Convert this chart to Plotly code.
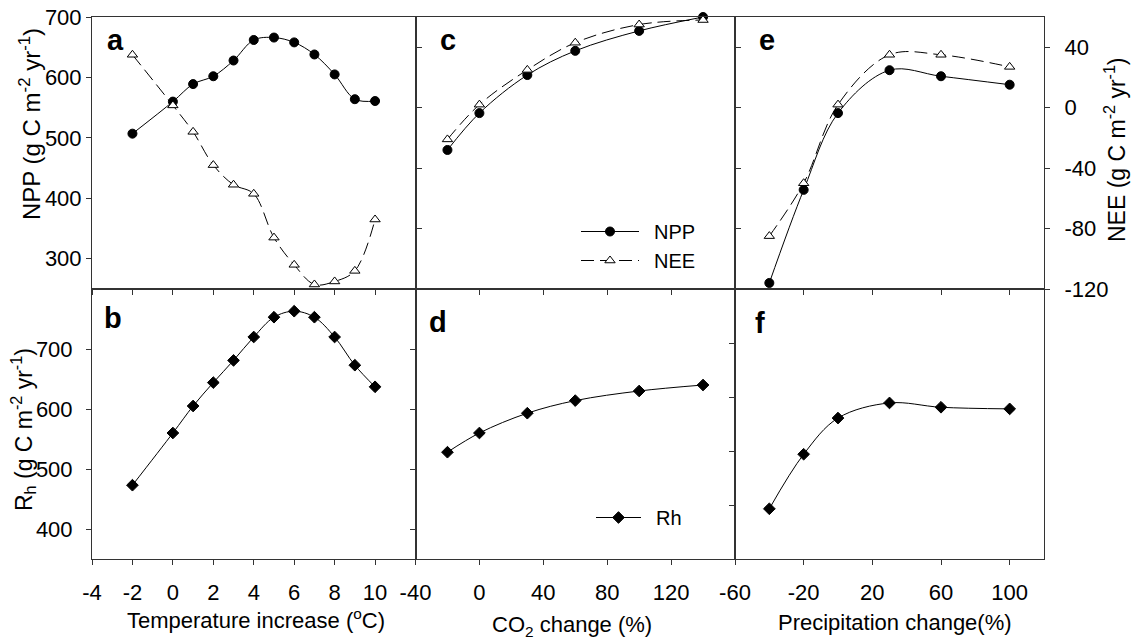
import plotly.graph_objects as go

# ---------------- data ----------------
temp = [-2, 0, 1, 2, 3, 4, 5, 6, 7, 8, 9, 10]
npp_temp = [507, 560, 589, 602, 628, 662, 666, 658, 638, 605, 564, 561]
nee_temp = [35, 1.5, -16, -38, -51, -57, -86, -104, -117, -115, -108, -74]
rh_temp = [473, 560, 605, 644, 681, 720, 753, 763, 753, 720, 673, 637]

co2 = [-20, 0, 30, 60, 100, 140]
npp_co2 = [480, 541, 604, 644, 677, 700]
nee_co2 = [-21, 2, 25, 43, 55, 58]
rh_co2 = [528, 560, 593, 614, 630, 640]

precip = [-40, -20, 0, 30, 60, 100]
npp_precip = [260, 414, 541, 612, 602, 588]
nee_precip = [-85, -50, 2, 35, 35, 27]
rh_precip = [393, 494, 561, 589, 581, 578]

temp_ticks = [-4, -2, 0, 2, 4, 6, 8, 10, 12]
temp_ticklabels = ["-4", "-2", "0", "2", "4", "6", "8", "10", ""]
co2_ticks = [-40, 0, 40, 80, 120, 160]
co2_ticklabels = ["-40", "0", "40", "80", "120", ""]
precip_ticks = [-60, -20, 20, 60, 100]
precip_ticklabels = ["-60", "-20", "20", "60", "100"]
npp_ticks = [300, 400, 500, 600, 700]
nee_ticks = [-120, -80, -40, 0, 40]
nee_ticklabels = ["-120", "-80", "-40", "0", "40"]
rh_ticks = [400, 500, 600, 700]

# ---------------- layout helpers ----------------
W, H = 1132, 640
FONT = "Liberation Sans, Arial, sans-serif"
LC = "#333333"


def px(x):
    return x / W


def py(y):
    return 1 - y / H


XA = [px(92), px(415.5)]
XC = [px(415.5), px(735)]
XE = [px(735), px(1044)]
YT = [py(289), py(17)]
YB = [py(559), py(289)]

fig = go.Figure()

npp_style = dict(mode="lines+markers", line=dict(color="black", width=1, shape="spline", smoothing=1),
                 marker=dict(symbol="circle", size=9, color="black", line=dict(color="black", width=1)),
                 cliponaxis=False, name="NPP")
nee_style = dict(mode="lines+markers", line=dict(color="black", width=1, shape="spline", smoothing=1, dash="13px,6px"),
                 marker=dict(symbol="triangle-up", size=9, color="white", line=dict(color="black", width=1)),
                 cliponaxis=False, name="NEE")
rh_style = dict(mode="lines+markers", line=dict(color="black", width=1, shape="spline", smoothing=1),
                marker=dict(symbol="diamond", size=9, color="black", line=dict(color="black", width=1)),
                cliponaxis=False, name="Rh")

# panel a
fig.add_trace(go.Scatter(x=temp, y=nee_temp, xaxis="x", yaxis="y2", showlegend=False, **nee_style))
fig.add_trace(go.Scatter(x=temp, y=npp_temp, xaxis="x", yaxis="y", showlegend=False, **npp_style))
# panel c
fig.add_trace(go.Scatter(x=co2, y=npp_co2, xaxis="x3", yaxis="y3", showlegend=True, legend="legend", **npp_style))
fig.add_trace(go.Scatter(x=co2, y=nee_co2, xaxis="x3", yaxis="y4", showlegend=True, legend="legend", **nee_style))
# panel e
fig.add_trace(go.Scatter(x=precip, y=nee_precip, xaxis="x5", yaxis="y6", showlegend=False, **nee_style))
fig.add_trace(go.Scatter(x=precip, y=npp_precip, xaxis="x5", yaxis="y5", showlegend=False, **npp_style))
# panel b
fig.add_trace(go.Scatter(x=temp, y=rh_temp, xaxis="x7", yaxis="y7", showlegend=False, **rh_style))
# panel d
fig.add_trace(go.Scatter(x=co2, y=rh_co2, xaxis="x8", yaxis="y8", showlegend=True, legend="legend2", **rh_style))
# panel f
fig.add_trace(go.Scatter(x=precip, y=rh_precip, xaxis="x9", yaxis="y9", showlegend=False, **rh_style))

base = dict(showgrid=False, zeroline=False, showline=True, linecolor=LC, linewidth=1,
            ticklen=5, tickcolor=LC, tickwidth=1, automargin=False,
            tickfont=dict(family=FONT, size=22, color="black"))


def ax(**kw):
    d = dict(base)
    d.update(kw)
    return d


layout = dict(
    width=W, height=H, margin=dict(l=0, r=0, t=0, b=0, autoexpand=False),
    paper_bgcolor="white", plot_bgcolor="white",
    font=dict(family=FONT, color="black"),
    # panel a
    xaxis=ax(domain=XA, anchor="y", range=[-4, 12], tickvals=temp_ticks, ticks="outside",
             showticklabels=False, mirror=True),
    yaxis=ax(domain=YT, anchor="x", range=[250, 700], tickvals=npp_ticks, ticks="outside",
             showticklabels=True, mirror=True),
    yaxis2=ax(overlaying="y", anchor="x", side="right", range=[-120, 60], tickvals=nee_ticks,
              ticks="outside", showticklabels=False),
    # panel c
    xaxis3=ax(domain=XC, anchor="y3", range=[-40, 160], tickvals=co2_ticks, ticks="outside",
              showticklabels=False, mirror=True),
    yaxis3=ax(domain=YT, anchor="x3", range=[250, 700], ticks="", showticklabels=False, mirror=True),
    yaxis4=ax(overlaying="y3", anchor="x3", side="right", range=[-120, 60], tickvals=nee_ticks,
              ticks="outside", showticklabels=False),
    # panel e
    xaxis5=ax(domain=XE, anchor="y5", range=[-60, 120], tickvals=precip_ticks, ticks="outside",
              showticklabels=False, mirror=True),
    yaxis5=ax(domain=YT, anchor="x5", range=[250, 700], ticks="", showticklabels=False, mirror=True),
    yaxis6=ax(overlaying="y5", anchor="x5", side="right", range=[-120, 60], tickvals=nee_ticks,
              ticktext=nee_ticklabels, ticks="outside", showticklabels=True, ticklabelstandoff=10),
    # panel b
    xaxis7=ax(domain=XA, anchor="y7", range=[-4, 12], tickvals=temp_ticks, ticktext=temp_ticklabels,
              ticks="outside", showticklabels=True, mirror=True, ticklabelstandoff=9),
    yaxis7=ax(domain=YB, anchor="x7", range=[350, 800], tickvals=rh_ticks, ticks="outside",
              showticklabels=True, mirror=True, ticklabelstandoff=9),
    # panel d
    xaxis8=ax(domain=XC, anchor="y8", range=[-40, 160], tickvals=co2_ticks, ticktext=co2_ticklabels,
              ticks="outside", showticklabels=True, mirror=True, ticklabelstandoff=9),
    yaxis8=ax(domain=YB, anchor="x8", range=[350, 800], tickvals=rh_ticks, ticks="outside",
              showticklabels=False, mirror=True),
    # panel f
    xaxis9=ax(domain=XE, anchor="y9", range=[-60, 120], tickvals=precip_ticks, ticktext=precip_ticklabels,
              ticks="outside", showticklabels=True, mirror=True, ticklabelstandoff=9),
    yaxis9=ax(domain=YB, anchor="x9", range=[300, 800], tickvals=rh_ticks, ticks="outside",
              showticklabels=False, mirror=True),
    legend=dict(x=px(576), y=py(212), xanchor="left", yanchor="top", bgcolor="rgba(0,0,0,0)",
                font=dict(family=FONT, size=20, color="black"), itemwidth=58, tracegroupgap=0),
    legend2=dict(x=px(591), y=py(498), xanchor="left", yanchor="top", bgcolor="rgba(0,0,0,0)",
                 font=dict(family=FONT, size=20, color="black"), itemwidth=45),
)
fig.update_layout(**layout)

ann = []
# panel letters
for t, x, y in [("a", 115, 40), ("c", 448, 40), ("e", 767, 40), ("b", 113, 318), ("d", 438, 322), ("f", 760, 323)]:
    ann.append(dict(text="<b>%s</b>" % t, x=px(x), y=py(y), xref="paper", yref="paper", showarrow=False,
                    xanchor="center", yanchor="middle", font=dict(family=FONT, size=29, color="black")))
# axis titles
ann.append(dict(text="NPP (g C m<sup>-2</sup> yr<sup>-1</sup>)", x=px(30), y=py(124), xref="paper", yref="paper",
                showarrow=False, textangle=-90, xanchor="center", yanchor="middle",
                font=dict(family=FONT, size=24, color="black")))
ann.append(dict(text="R<sub>h</sub> (g C m<sup>-2</sup> yr<sup>-1</sup>)", x=px(23), y=py(430), xref="paper",
                yref="paper", showarrow=False, textangle=-90, xanchor="center", yanchor="middle",
                font=dict(family=FONT, size=23, color="black")))
ann.append(dict(text="NEE (g C m<sup>-2</sup> yr<sup>-1</sup>)", x=px(1115), y=py(150), xref="paper", yref="paper",
                showarrow=False, textangle=-90, xanchor="center", yanchor="middle",
                font=dict(family=FONT, size=23, color="black")))
ann.append(dict(text="Temperature increase (<sup>o</sup>C)", x=px(256), y=py(619), xref="paper", yref="paper",
                showarrow=False, xanchor="center", yanchor="middle", font=dict(family=FONT, size=22, color="black")))
ann.append(dict(text="CO<sub>2</sub> change (%)", x=px(572), y=py(626), xref="paper", yref="paper",
                showarrow=False, xanchor="center", yanchor="middle", font=dict(family=FONT, size=22, color="black")))
ann.append(dict(text="Precipitation change(%)", x=px(895), y=py(622), xref="paper", yref="paper",
                showarrow=False, xanchor="center", yanchor="middle", font=dict(family=FONT, size=22, color="black")))
fig.update_layout(annotations=ann)

# legend labels with a little extra gap
fig.data[2].name = "\u2002NPP"
fig.data[3].name = "\u2002NEE"
fig.data[7].name = "\u2002Rh"

fig.write_html("out.html")
